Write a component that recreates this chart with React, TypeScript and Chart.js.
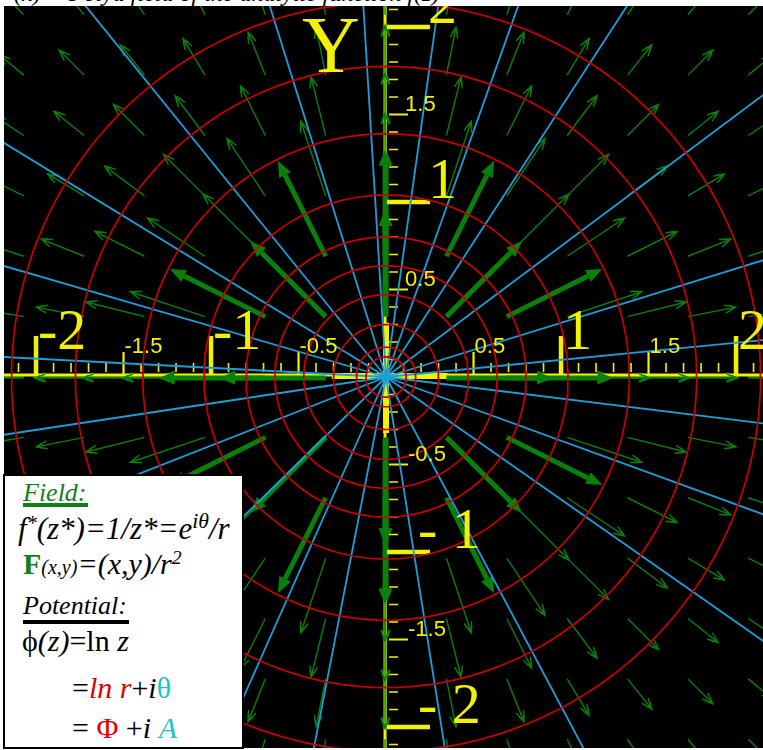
import React, { useEffect, useRef } from "react";
import { Chart, registerables } from "chart.js";

Chart.register(...registerables);

// ---- data ----
const X_MIN = -2.183;
const X_MAX = 2.154;
const Y_MIN = -2.12;
const Y_MAX = 2.12;

// equipotential circles (ln r = const), radii in units
const circleRadii = [0.115, 0.17, 0.3, 0.47, 0.635, 0.8, 1.04, 1.39, 1.775, 2.14];

// streamlines (theta = const), angles in degrees
const streamAnglesDeg = [5.6, 17.2, 36.8, 57, 70.4, 82, 93.5, 107.4, 129, 148.5, 163.8, 177, 188.6, 201.4, 224.4, 246, 259, 279, 298, 325, 340, 353];

// grid of field-vector tails
const arrowGridX = [-2.07, -1.725, -1.38, -1.035, -0.69, -0.345, 0, 0.345, 0.69, 1.035, 1.38, 1.725, 2.07];
const arrowGridY = [-2.07, -1.725, -1.38, -1.035, -0.69, -0.345, 0, 0.345, 0.69, 1.035, 1.38, 1.725, 2.07];

// axis ticks & labels
const majorTicks = [-2, -1, 1, 2];
const xMajorLabels = ["-2", "-1", "1", "2"];
const yMajorLabels = ["- 2", "- 1", "1", "2"];
const halfTicks = [-1.5, -0.5, 0.5, 1.5];
const xHalfLabels = ["-1.5", "-0.5", "0.5", "1.5"];
const yHalfLabels = ["-1.5", "-0.5", "0.5", "1.5"];
const minorTicks = [
  -2.1, -1.9, -1.8, -1.7, -1.6, -1.4, -1.3, -1.2, -1.1, -0.9, -0.8, -0.7, -0.6, -0.4, -0.3, -0.2, -0.1,
  0.1, 0.2, 0.3, 0.4, 0.6, 0.7, 0.8, 0.9, 1.1, 1.2, 1.3, 1.4, 1.6, 1.7, 1.8, 1.9, 2.1,
];

// field F = (x,y)/r^2 drawn as arrows of length min(k/r, cap)
const ARROW_K = 0.49;
const ARROW_CAP = 0.61;
const THICK_R = 0.9;

const RED = "#c80000";
const BLUE = "#1e9ed8";
const GREEN = "#0a800a";
const YELLOW = "#f2f200";

function drawArrow(ctx: CanvasRenderingContext2D, x0: number, y0: number, x1: number, y1: number, thick: boolean) {
  const dx = x1 - x0, dy = y1 - y0;
  const L = Math.hypot(dx, dy);
  if (L < 1) return;
  const ux = dx / L, uy = dy / L;
  const headLen = thick ? 16 : 11;
  const headW = thick ? 13 : 8;
  const bx = x1 - ux * headLen, by = y1 - uy * headLen;
  ctx.strokeStyle = GREEN;
  ctx.fillStyle = GREEN;
  ctx.lineCap = "butt";
  if (thick) {
    ctx.lineWidth = 5;
    ctx.beginPath();
    ctx.moveTo(x0, y0);
    ctx.lineTo(bx, by);
    ctx.stroke();
    ctx.beginPath();
    ctx.moveTo(x1, y1);
    ctx.lineTo(bx - uy * headW / 2, by + ux * headW / 2);
    ctx.lineTo(bx + uy * headW / 2, by - ux * headW / 2);
    ctx.closePath();
    ctx.fill();
  } else {
    ctx.lineWidth = 1.4;
    ctx.beginPath();
    ctx.moveTo(x0, y0);
    ctx.lineTo(x1, y1);
    ctx.stroke();
    ctx.beginPath();
    ctx.moveTo(bx - uy * headW / 2, by + ux * headW / 2);
    ctx.lineTo(x1, y1);
    ctx.lineTo(bx + uy * headW / 2, by - ux * headW / 2);
    ctx.stroke();
    const b2x = x1 - ux * headLen * 0.55, b2y = y1 - uy * headLen * 0.55;
    ctx.beginPath();
    ctx.moveTo(b2x - uy * headW / 3, b2y + ux * headW / 3);
    ctx.lineTo(x1 - ux * 2, y1 - uy * 2);
    ctx.lineTo(b2x + uy * headW / 3, b2y - ux * headW / 3);
    ctx.stroke();
  }
}

const fieldPlugin = {
  id: "fieldPlugin",
  beforeDraw(chart: any) {
    const { ctx, chartArea: a } = chart;
    ctx.save();
    ctx.fillStyle = "#000";
    ctx.fillRect(a.left, a.top, a.right - a.left, a.bottom - a.top);
    ctx.restore();
  },
  beforeDatasetsDraw(chart: any) {
    const { ctx, chartArea: a, scales } = chart;
    const sx = scales.x, sy = scales.y;
    ctx.save();
    ctx.beginPath();
    ctx.rect(a.left, a.top, a.right - a.left, a.bottom - a.top);
    ctx.clip();

    // field arrows
    for (const gx of arrowGridX) {
      for (const gy of arrowGridY) {
        const r = Math.hypot(gx, gy);
        if (r < 1e-6) continue;
        const len = Math.min(ARROW_K / r, ARROW_CAP);
        const ex = gx + (gx / r) * len;
        const ey = gy + (gy / r) * len;
        drawArrow(ctx, sx.getPixelForValue(gx), sy.getPixelForValue(gy), sx.getPixelForValue(ex), sy.getPixelForValue(ey), r < THICK_R);
      }
    }

    // axes
    const ox = sx.getPixelForValue(0);
    const oy = sy.getPixelForValue(0);
    ctx.strokeStyle = YELLOW;
    ctx.lineWidth = 3;
    ctx.beginPath();
    ctx.moveTo(a.left, oy - 2);
    ctx.lineTo(a.right, oy - 2);
    ctx.moveTo(ox - 1, a.top);
    ctx.lineTo(ox - 1, a.bottom);
    ctx.stroke();

    // thick central cross
    ctx.lineWidth = 6;
    ctx.beginPath();
    ctx.moveTo(sx.getPixelForValue(-0.31), oy - 1);
    ctx.lineTo(sx.getPixelForValue(0.35), oy - 1);
    ctx.moveTo(ox, sy.getPixelForValue(0.31));
    ctx.lineTo(ox, sy.getPixelForValue(-0.32));
    ctx.stroke();

    // green arrows on the axes over the yellow line
    for (const gx of arrowGridX) {
      const r = Math.abs(gx);
      if (r < 1e-6) continue;
      const len = Math.min(ARROW_K / r, ARROW_CAP);
      drawArrow(ctx, sx.getPixelForValue(gx), oy + 1, sx.getPixelForValue(gx + Math.sign(gx) * len), oy + 1, r < THICK_R);
    }
    for (const gy of arrowGridY) {
      const r = Math.abs(gy);
      if (r < 1e-6) continue;
      const len = Math.min(ARROW_K / r, ARROW_CAP);
      drawArrow(ctx, ox - 1, sy.getPixelForValue(gy), ox - 1, sy.getPixelForValue(gy + Math.sign(gy) * len), r < THICK_R);
    }

    // ticks
    ctx.strokeStyle = YELLOW;
    ctx.lineWidth = 1.6;
    ctx.beginPath();
    for (const t of minorTicks) {
      const px = sx.getPixelForValue(t);
      ctx.moveTo(px, oy - 5);
      ctx.lineTo(px, oy - 14);
    }
    for (const t of minorTicks) {
      const py = sy.getPixelForValue(t);
      ctx.moveTo(ox + 3, py);
      ctx.lineTo(ox + 12, py);
    }
    ctx.stroke();
    ctx.lineWidth = 2.2;
    ctx.beginPath();
    for (const t of halfTicks) {
      const px = sx.getPixelForValue(t);
      ctx.moveTo(px, oy - 3);
      ctx.lineTo(px, oy - 25);
      const py = sy.getPixelForValue(t);
      ctx.moveTo(ox + 3, py);
      ctx.lineTo(ox + 22, py);
    }
    ctx.stroke();
    ctx.lineWidth = 4.5;
    ctx.beginPath();
    for (const t of majorTicks) {
      const px = sx.getPixelForValue(t);
      ctx.moveTo(px, oy - 2);
      ctx.lineTo(px, oy - 41);
      const py = sy.getPixelForValue(t);
      ctx.moveTo(ox + 1, py);
      ctx.lineTo(ox + 44, py);
    }
    ctx.stroke();
    ctx.restore();
  },
  afterDatasetsDraw(chart: any) {
    const { ctx, chartArea: a, scales } = chart;
    const sx = scales.x, sy = scales.y;
    const ox = sx.getPixelForValue(0);
    const oy = sy.getPixelForValue(0);
    ctx.save();
    ctx.beginPath();
    ctx.rect(a.left, a.top, a.right - a.left, a.bottom - a.top);
    ctx.clip();
    ctx.fillStyle = YELLOW;
    ctx.textBaseline = "alphabetic";
    ctx.textAlign = "left";

    ctx.font = '58px "Liberation Serif", serif';
    majorTicks.forEach((t, i) => {
      ctx.fillText(xMajorLabels[i], sx.getPixelForValue(t) + 2, oy - 28);
      ctx.fillText(yMajorLabels[i], ox + (t > 0 ? 42 : 32), sy.getPixelForValue(t) - 4);
    });
    ctx.font = '22px "Liberation Sans", sans-serif';
    halfTicks.forEach((t, i) => {
      ctx.fillText(xHalfLabels[i], sx.getPixelForValue(t) + 1, oy - 24);
      ctx.fillText(yHalfLabels[i], ox + (t > 0 ? 19 : 22), sy.getPixelForValue(t) - 4);
    });
    ctx.font = '80px "Liberation Serif", serif';
    ctx.fillText("Y", ox - 84, a.top + 66);
    ctx.restore();
  },
};

function circlePoints(r: number) {
  const pts: { x: number; y: number }[] = [];
  for (let d = 0; d <= 360; d += 2) {
    const t = (d * Math.PI) / 180;
    pts.push({ x: r * Math.cos(t), y: r * Math.sin(t) });
  }
  return pts;
}

export default function App() {
  const ref = useRef<HTMLCanvasElement | null>(null);
  useEffect(() => {
    if (!ref.current) return;
    const datasets: any[] = [];
    circleRadii.forEach((r) => {
      datasets.push({
        data: circlePoints(r),
        showLine: true,
        borderColor: RED,
        borderWidth: 1.7,
        pointRadius: 0,
        tension: 0,
      });
    });
    streamAnglesDeg.forEach((deg) => {
      const t = (deg * Math.PI) / 180;
      datasets.push({
        data: [
          { x: 0, y: 0 },
          { x: 4 * Math.cos(t), y: 4 * Math.sin(t) },
        ],
        showLine: true,
        borderColor: BLUE,
        borderWidth: 1.8,
        pointRadius: 0,
      });
    });
    const chart = new Chart(ref.current, {
      type: "scatter",
      data: { datasets },
      options: {
        animation: false,
        responsive: false,
        devicePixelRatio: 1,
        layout: { padding: { left: 4, top: 6, right: 0, bottom: 2 } },
        scales: {
          x: { type: "linear", min: X_MIN, max: X_MAX, display: false },
          y: { type: "linear", min: Y_MIN, max: Y_MAX, display: false },
        },
        plugins: { legend: { display: false }, tooltip: { enabled: false } },
        events: [],
      },
      plugins: [fieldPlugin],
    });
    return () => chart.destroy();
  }, []);

  const serif = '"Liberation Serif", "Times New Roman", serif';
  const green = "#12801a";
  const red = "#e00000";
  const cyan = "#1ec4c4";
  const line = (top: number, left: number, size: number, children: any, extra: any = {}) => (
    <div style={{ position: "absolute", top, left, fontSize: size, lineHeight: 1, whiteSpace: "nowrap", ...extra }}>{children}</div>
  );

  return (
    <div style={{ position: "absolute", left: 0, top: 0, width: 763, height: 750, background: "#fff", overflow: "hidden", fontFamily: serif }}>
      <div style={{ position: "absolute", left: 0, top: 0, width: 763, height: 6, overflow: "hidden" }}>
        <div style={{ position: "absolute", left: 14, top: -19, fontSize: 24, lineHeight: 1, whiteSpace: "nowrap", fontStyle: "italic" }}>
          (x) = Pólya field of the analytic function f(z)
        </div>
      </div>
      <canvas ref={ref} width={763} height={750} style={{ position: "absolute", left: 0, top: 0, width: 763, height: 750 }} />
      <div style={{ position: "absolute", left: 3, top: 474, width: 237, height: 271, background: "#fff", border: "2px solid #000" }} />
      {line(480, 23, 26, <i>Field:</i>, { color: green })}
      <div style={{ position: "absolute", left: 23, top: 503, width: 65, height: 3.5, background: green }} />
      {line(511, 18, 31, <i>f<sup style={{ fontSize: "0.65em", verticalAlign: "0.45em" }}>*</sup>(z*)=1/z*=e<sup style={{ fontSize: "0.7em", verticalAlign: "0.5em" }}>iθ</sup>/r</i>)}
      {line(548, 23, 30, <span><b style={{ color: green }}>F</b><i style={{ fontSize: 20 }}>(x,y)</i><i>=(x,y)/r<sup style={{ fontSize: "0.66em", verticalAlign: "0.5em" }}>2</sup></i></span>)}
      {line(593, 23, 26, <i>Potential:</i>)}
      <div style={{ position: "absolute", left: 23, top: 620, width: 106, height: 3.5, background: "#000" }} />
      {line(626, 22, 30, <span>ϕ<i>(z)</i>=ln <i>z</i></span>)}
      {line(673, 72, 30, <span>=<i style={{ color: red }}>ln r</i>+<i>i</i><span style={{ color: cyan }}>θ</span></span>)}
      {line(713, 72, 30, <span>= <span style={{ color: red }}>Φ</span> +<i>i</i> <i style={{ color: cyan }}>A</i></span>)}
    </div>
  );
}
